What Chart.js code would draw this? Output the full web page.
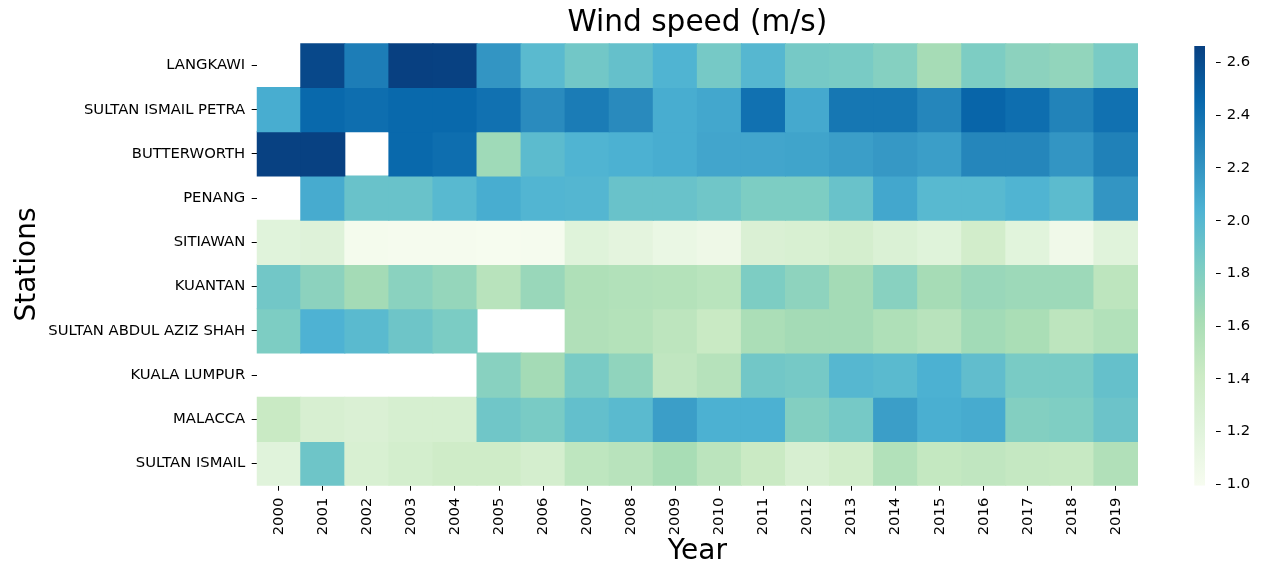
<!DOCTYPE html>
<html><head><meta charset="utf-8">
<script src="https://cdn.jsdelivr.net/npm/chart.js@4.4.1/dist/chart.umd.min.js"></script>
<style>
html,body{margin:0;padding:0;background:#fff;}
#wrap{position:relative;width:1262px;height:572px;background:#fff;}
#wrap canvas{position:absolute;left:0;top:0;}
</style></head><body>
<div id="wrap"><canvas id="main" width="1262" height="572"></canvas><canvas id="cbar" width="1262" height="572"></canvas></div>
<script>
const years = ['2000','2001','2002','2003','2004','2005','2006','2007','2008','2009','2010','2011','2012','2013','2014','2015','2016','2017','2018','2019'];
const stations = ['LANGKAWI','SULTAN ISMAIL PETRA','BUTTERWORTH','PENANG','SITIAWAN','KUANTAN','SULTAN ABDUL AZIZ SHAH','KUALA LUMPUR','MALACCA','SULTAN ISMAIL'];

const langkawi          = [null,2.62,2.33,2.67,2.66,2.20,1.98,1.87,1.93,2.03,1.85,2.00,1.85,1.84,1.78,1.63,1.82,1.75,1.72,1.84];
const sultanIsmailPetra = [2.07,2.45,2.42,2.45,2.45,2.40,2.25,2.34,2.26,2.07,2.10,2.40,2.09,2.37,2.37,2.28,2.47,2.42,2.30,2.40];
const butterworth       = [2.66,2.66,null,2.45,2.42,1.66,1.97,2.03,2.05,2.07,2.11,2.11,2.12,2.15,2.18,2.15,2.28,2.28,2.20,2.31];
const penang            = [null,2.08,1.91,1.91,1.99,2.07,2.02,2.01,1.91,1.91,1.88,1.82,1.82,1.91,2.10,1.99,1.99,2.03,1.97,2.20];
const sitiawan          = [1.20,1.22,1.02,1.01,1.01,1.00,1.01,1.21,1.17,1.11,1.08,1.27,1.29,1.33,1.26,1.21,1.35,1.19,1.06,1.20];
const kuantan           = [1.87,1.75,1.64,1.76,1.71,1.53,1.69,1.58,1.56,1.55,1.52,1.82,1.74,1.64,1.77,1.63,1.69,1.67,1.67,1.50];
const sultanAbdulAziz   = [1.82,2.04,1.98,1.89,1.83,null,null,1.57,1.55,1.50,1.43,1.60,1.64,1.64,1.58,1.53,1.65,1.61,1.50,1.56];
const kualaLumpur       = [null,null,null,null,null,1.77,1.64,1.84,1.73,1.48,1.54,1.87,1.85,2.00,1.98,2.05,1.95,1.84,1.84,1.93];
const malacca           = [1.43,1.30,1.27,1.31,1.31,1.88,1.84,1.94,1.98,2.15,2.05,2.05,1.79,1.85,2.15,2.06,2.08,1.79,1.81,1.90];
const sultanIsmail      = [1.20,1.89,1.29,1.34,1.38,1.38,1.33,1.49,1.53,1.62,1.51,1.42,1.30,1.36,1.56,1.46,1.48,1.45,1.44,1.57];

const cbarTicks = [1.0,1.2,1.4,1.6,1.8,2.0,2.2,2.4,2.6];
const vmin = 0.994, vmax = 2.663;

const rows = [langkawi, sultanIsmailPetra, butterworth, penang, sitiawan, kuantan, sultanAbdulAziz, kualaLumpur, malacca, sultanIsmail];

// GnBu colormap stops
const GNBU = ['#f7fcf0','#e0f3db','#ccebc5','#a8ddb5','#7bccc4','#4eb3d3','#2b8cbe','#0868ac','#084081'];
function hex2rgb(h){return [parseInt(h.slice(1,3),16),parseInt(h.slice(3,5),16),parseInt(h.slice(5,7),16)];}
const GNBU_RGB = GNBU.map(hex2rgb);
function colorFor(v){
  let t = (v - vmin) / (vmax - vmin);
  t = Math.max(0, Math.min(1, t));
  const p = t * (GNBU_RGB.length - 1);
  const i = Math.min(Math.floor(p), GNBU_RGB.length - 2);
  const f = p - i;
  const a = GNBU_RGB[i], b = GNBU_RGB[i+1];
  const c = a.map((x,k)=>Math.round(x + (b[k]-x)*f));
  return 'rgb(' + c.join(',') + ')';
}

Chart.defaults.font.family = "'DejaVu Sans', sans-serif";
Chart.defaults.color = '#000';

const datasets = stations.map((name, i) => ({
  label: name,
  data: rows[i].map(v => v == null ? null : [i - 0.5, i + 0.5]),
  backgroundColor: rows[i].map(v => v == null ? 'rgba(0,0,0,0)' : colorFor(v)),
  borderWidth: 0,
  grouped: false,
  barPercentage: 1,
  categoryPercentage: 1,
  inflateAmount: 0.5
}));

new Chart(document.getElementById('main'), {
  type: 'bar',
  data: { labels: years, datasets },
  options: {
    responsive: false,
    animation: false,
    events: [],
    layout: { padding: { left: 0, right: 124, top: 0, bottom: 0 } },
    plugins: {
      legend: { display: false },
      tooltip: { enabled: false },
      title: {
        display: true,
        text: 'Wind speed (m/s)',
        fullSize: false,
        color: '#000',
        font: { size: 29.6, weight: 'normal' },
        padding: { top: 5.6, bottom: 2.2 }
      }
    },
    scales: {
      x: {
        type: 'category',
        offset: true,
        afterFit: s => { s.height = 86.3; },
        grid: { offset: false, drawOnChartArea: false, drawTicks: true, tickLength: 5, color: '#000', lineWidth: 1 },
        border: { display: false },
        ticks: { autoSkip: false, minRotation: 90, maxRotation: 90, padding: 7, color: '#000', font: { size: 14.8 } },
        title: { display: true, text: 'Year', color: '#000', font: { size: 28, weight: 'normal' }, padding: { top: 0, bottom: 3.5 } }
      },
      y: {
        type: 'linear',
        min: -0.5,
        max: 9.5,
        reverse: true,
        afterFit: s => { s.width = 256.7; },
        afterBuildTicks: s => { s.ticks = stations.map((_, i) => ({ value: i })); },
        grid: { drawOnChartArea: false, drawTicks: true, tickLength: 5, color: '#000', lineWidth: 1 },
        border: { display: false },
        ticks: { autoSkip: false, padding: 6.5, color: '#000', font: { size: 14.8 }, callback: v => stations[v] },
        title: { display: true, text: 'Stations', color: '#000', font: { size: 28, weight: 'normal' }, padding: { top: 10.5, bottom: 0 } }
      }
    }
  }
});

new Chart(document.getElementById('cbar'), {
  type: 'bar',
  data: {
    labels: ['cb'],
    datasets: [{
      data: [[vmin, vmax]],
      backgroundColor: c => {
        const ch = c.chart, area = ch.chartArea;
        if (!area) return GNBU[4];
        const g = ch.ctx.createLinearGradient(0, area.bottom, 0, area.top);
        GNBU.forEach((col, k) => g.addColorStop(k / (GNBU.length - 1), col));
        return g;
      },
      borderWidth: 0,
      barPercentage: 1,
      categoryPercentage: 1,
      inflateAmount: 0
    }]
  },
  options: {
    responsive: false,
    animation: false,
    events: [],
    layout: { padding: { left: 1194.3, right: 0, top: 46, bottom: 86.3 } },
    plugins: { legend: { display: false }, tooltip: { enabled: false }, title: { display: false } },
    scales: {
      x: { display: false, offset: false },
      y: {
        type: 'linear',
        position: 'right',
        min: vmin,
        max: vmax,
        afterFit: s => { s.width = 1262 - 1215.7; },
        afterBuildTicks: s => { s.ticks = cbarTicks.map(v => ({ value: v })); },
        grid: { drawOnChartArea: false, drawTicks: true, tickLength: 5, color: '#000', lineWidth: 1 },
        border: { display: false },
        ticks: { padding: 6, color: '#000', font: { size: 14.8 }, callback: v => Number(v).toFixed(1) }
      }
    }
  }
});
</script>
</body></html>
